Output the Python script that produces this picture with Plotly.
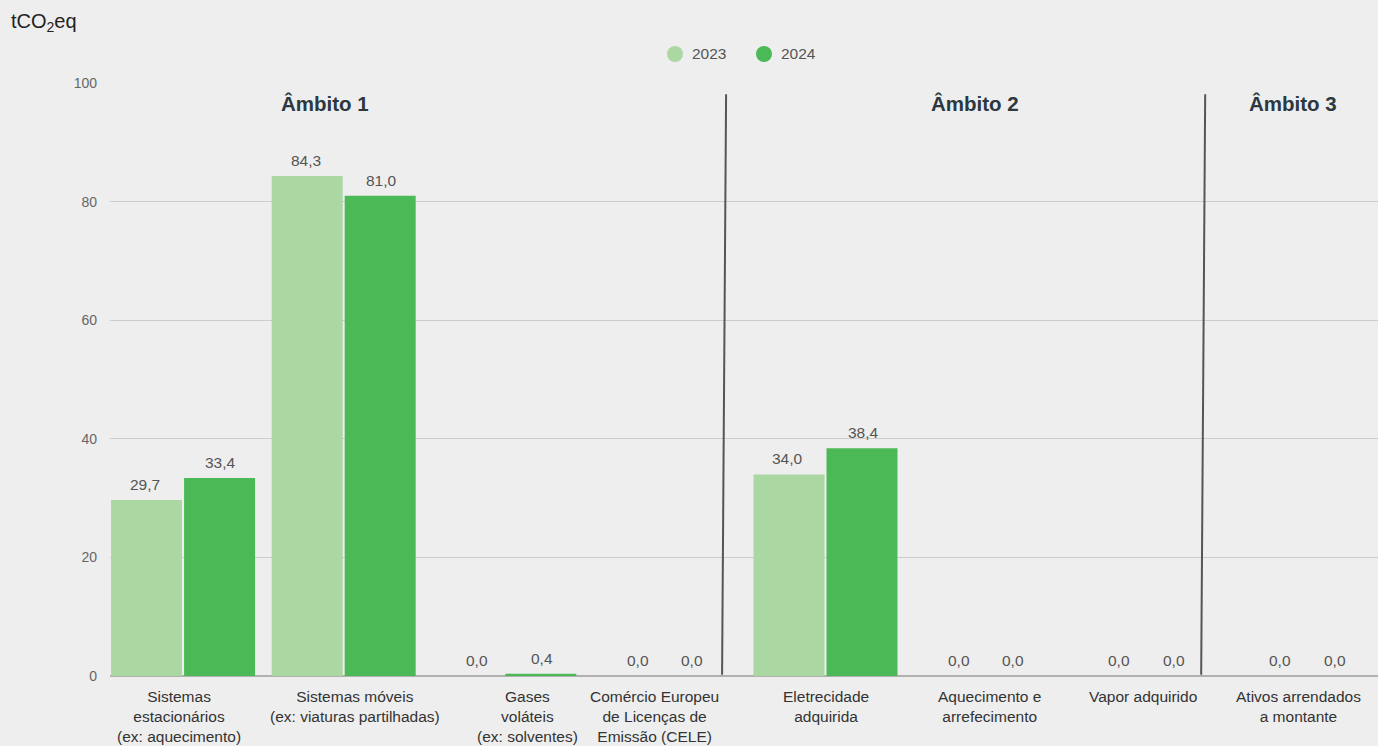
import plotly.graph_objects as go

categories = [
    "Sistemas<br>estacionários<br>(ex: aquecimento)",
    "Sistemas móveis<br>(ex: viaturas partilhadas)",
    "Gases<br>voláteis<br>(ex: solventes)",
    "Comércio Europeu<br>de Licenças de<br>Emissão (CELE)",
    "Eletrecidade<br>adquirida",
    "Aquecimento e<br>arrefecimento",
    "Vapor adquirido",
    "Ativos arrendados<br>a montante",
]
values_2023 = [29.7, 84.3, 0.0, 0.0, 34.0, 0.0, 0.0, 0.0]
values_2024 = [33.4, 81.0, 0.4, 0.0, 38.4, 0.0, 0.0, 0.0]
series_names = ["2023", "2024"]
scope_labels = ["Âmbito 1", "Âmbito 2", "Âmbito 3"]
y_ticks = [0, 20, 40, 60, 80, 100]

# layout-only: horizontal nudges (px) of category labels
label_nudge_px = [-4, 11, 23, -10, 0, 3, -4, -9]

C23 = "#abd7a3"
C24 = "#4cb957"
BG = "#eeeeee"
FONT = "Liberation Sans, Arial, sans-serif"
PX_PER_CAT = 160.6

x = list(range(len(categories)))
fig = go.Figure()
fig.add_bar(x=x, y=values_2023, marker_color=C23, name=series_names[0], showlegend=False,
            hoverinfo="skip", marker_line_width=0)
fig.add_bar(x=x, y=values_2024, marker_color=C24, name=series_names[1], showlegend=False,
            hoverinfo="skip", marker_line_width=0)


def fmt(v):
    return f"{v:.1f}".replace(".", ",")


for i, (a, b) in enumerate(zip(values_2023, values_2024)):
    for v, sgn in ((a, -1), (b, 1)):
        off = 0.234 if v > 0 else 0.17
        fig.add_annotation(x=i + sgn * off, y=v, xref="x", yref="y", text=fmt(v),
                           showarrow=False, yanchor="middle", yshift=15.5,
                           font=dict(size=15.5, color="#555555", family=FONT))

# category labels
for i, (lab, nud) in enumerate(zip(categories, label_nudge_px)):
    fig.add_annotation(x=i + nud / PX_PER_CAT, y=0, xref="x", yref="y", text=lab,
                       showarrow=False, yanchor="top", xanchor="center", align="center",
                       yshift=-10, font=dict(size=15.5, color="#333333", family=FONT))

# legend drawn manually with circles
for k, (nm, c) in enumerate(zip(series_names, [C23, C24])):
    cx = (675 + 89 * k - 110) / 1268
    fig.add_shape(type="circle", xref="paper", yref="paper", xsizemode="pixel", ysizemode="pixel",
                  xanchor=cx, yanchor=(676 - 54) / 593, x0=-8, x1=8, y0=-8, y1=8,
                  fillcolor=c, line=dict(width=0))
    fig.add_annotation(x=cx, y=(676 - 54) / 593, xref="paper", yref="paper", text=nm,
                       showarrow=False, xanchor="left", yanchor="middle", xshift=15,
                       font=dict(size=15.5, color="#555555", family=FONT))

# separator lines
for (x0, x1) in [(3.356, 3.381), (6.339, 6.364)]:
    fig.add_shape(type="line", xref="x", yref="y", x0=x0, y0=0.2, x1=x1, y1=98.1,
                  line=dict(color="#555555", width=2))

for lab, xp in zip(scope_labels, [0.884, 4.93, 6.91]):
    fig.add_annotation(x=xp, y=96.6, xref="x", yref="y", text=f"<b>{lab}</b>",
                       showarrow=False, font=dict(size=20.5, color="#2b3840", family=FONT))

fig.add_annotation(x=(9 - 110) / 1268, y=(676 - 22) / 593, xref="paper", yref="paper",
                   text="tCO<sub>2</sub>eq", showarrow=False, xanchor="left", yanchor="middle",
                   font=dict(size=20, color="#222222", family=FONT))

fig.update_layout(
    width=1378, height=746,
    margin=dict(l=110, r=0, t=83, b=70),
    paper_bgcolor=BG, plot_bgcolor=BG,
    barmode="group", bargap=0.091, bargroupgap=0.0275,
    font=dict(family=FONT, size=14, color="#444444"),
    showlegend=False,
    xaxis=dict(range=[-0.455, 7.44], showticklabels=False,
               showgrid=False, zeroline=False, showline=False, ticks=""),
    yaxis=dict(range=[0, 100], tickvals=y_ticks, showgrid=True, gridcolor="#cccccc",
               gridwidth=1, zeroline=True, zerolinecolor="#b0b0b0", zerolinewidth=2,
               showline=False, ticks="", ticklabelstandoff=12,
               tickfont=dict(size=14, color="#666666", family=FONT)),
)
fig.write_html("out.html", config={"displayModeBar": False},
               post_script="document.body.style.margin='0';document.body.style.background='#eeeeee';document.body.style.overflow='hidden';")
